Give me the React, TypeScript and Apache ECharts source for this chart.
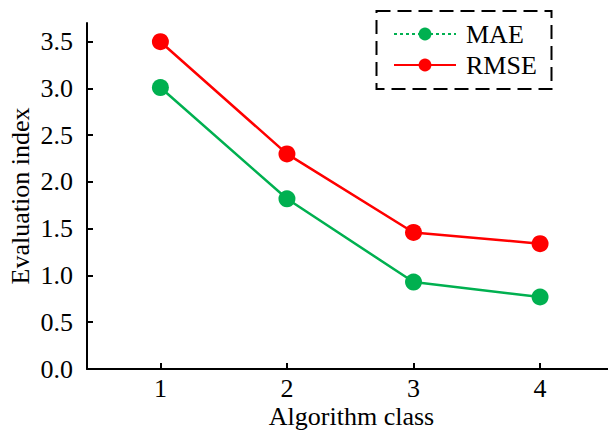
import React, { useEffect, useRef } from "react";
import * as echarts from "echarts";

const categories = [1, 2, 3, 4];
const maeValues = [3.01, 1.82, 0.93, 0.77];
const rmseValues = [3.5, 2.3, 1.46, 1.34];
const yTicks = [0, 0.5, 1, 1.5, 2, 2.5, 3, 3.5];

const FONT = "Liberation Serif";
const FS = 26;

export default function App() {
  const ref = useRef<HTMLDivElement>(null);
  useEffect(() => {
    const chart = echarts.init(ref.current!, null, { renderer: "svg" });
    chart.setOption({
      animation: false,
      backgroundColor: "#ffffff",
      grid: { left: 87, right: -8, top: 23, bottom: 61, containLabel: false, outerBoundsMode: "none" },
      xAxis: {
        type: "value",
        min: 0.42,
        max: 4.6,
        name: "Algorithm class",
        nameLocation: "middle",
        nameGap: 34,
        nameMoveOverlap: false,
        nameTextStyle: { fontFamily: FONT, fontSize: FS, color: "#000", lineHeight: 26 },
        axisLine: { lineStyle: { color: "#000", width: 2 } },
        axisTick: { inside: true, length: 6, lineStyle: { color: "#000", width: 2 }, customValues: categories },
        axisLabel: { fontFamily: FONT, fontSize: FS, color: "#000", margin: 6, lineHeight: 26, customValues: categories },
        splitLine: { show: false },
      },
      yAxis: {
        type: "value",
        min: 0,
        max: 3.7,
        name: "Evaluation index",
        nameLocation: "middle",
        nameGap: 54,
        nameRotate: 90,
        nameMoveOverlap: false,
        nameTextStyle: { fontFamily: FONT, fontSize: FS, color: "#000" },
        axisLine: { show: true, lineStyle: { color: "#000", width: 2 } },
        axisTick: { show: true, inside: true, length: 6, lineStyle: { color: "#000", width: 2 }, customValues: yTicks },
        axisLabel: {
          fontFamily: FONT,
          fontSize: FS,
          color: "#000",
          margin: 14,
          customValues: yTicks,
          formatter: (v: number) => v.toFixed(1),
        },
        splitLine: { show: false },
      },
      legend: {
        left: 388,
        top: 16,
        orient: "vertical",
        itemWidth: 62,
        itemHeight: 16,
        itemGap: 5,
        textStyle: { fontFamily: FONT, fontSize: FS, color: "#000", padding: [0, 0, 0, 5] },
        data: [
          { name: "MAE", lineStyle: { type: [3, 3] } },
          { name: "RMSE" },
        ],
      },
      graphic: [
        {
          type: "rect",
          shape: { x: 376.5, y: 11, width: 175, height: 78 },
          style: { fill: "none", stroke: "#000", lineWidth: 2, lineDash: [14, 7] },
          z: 10,
        },
      ],
      series: [
        {
          name: "MAE",
          type: "line",
          data: categories.map((c, i) => [c, maeValues[i]]),
          color: "#00b050",
          symbol: "circle",
          symbolSize: 17,
          lineStyle: { width: 2.5, color: "#00b050" },
          itemStyle: { color: "#00b050" },
        },
        {
          name: "RMSE",
          type: "line",
          data: categories.map((c, i) => [c, rmseValues[i]]),
          color: "#ff0000",
          symbol: "circle",
          symbolSize: 17,
          lineStyle: { width: 2.5, color: "#ff0000" },
          itemStyle: { color: "#ff0000" },
        },
      ],
    });
    return () => chart.dispose();
  }, []);
  return <div ref={ref} style={{ width: 608, height: 430, position: "absolute", left: 0, top: 0 }} />;
}
